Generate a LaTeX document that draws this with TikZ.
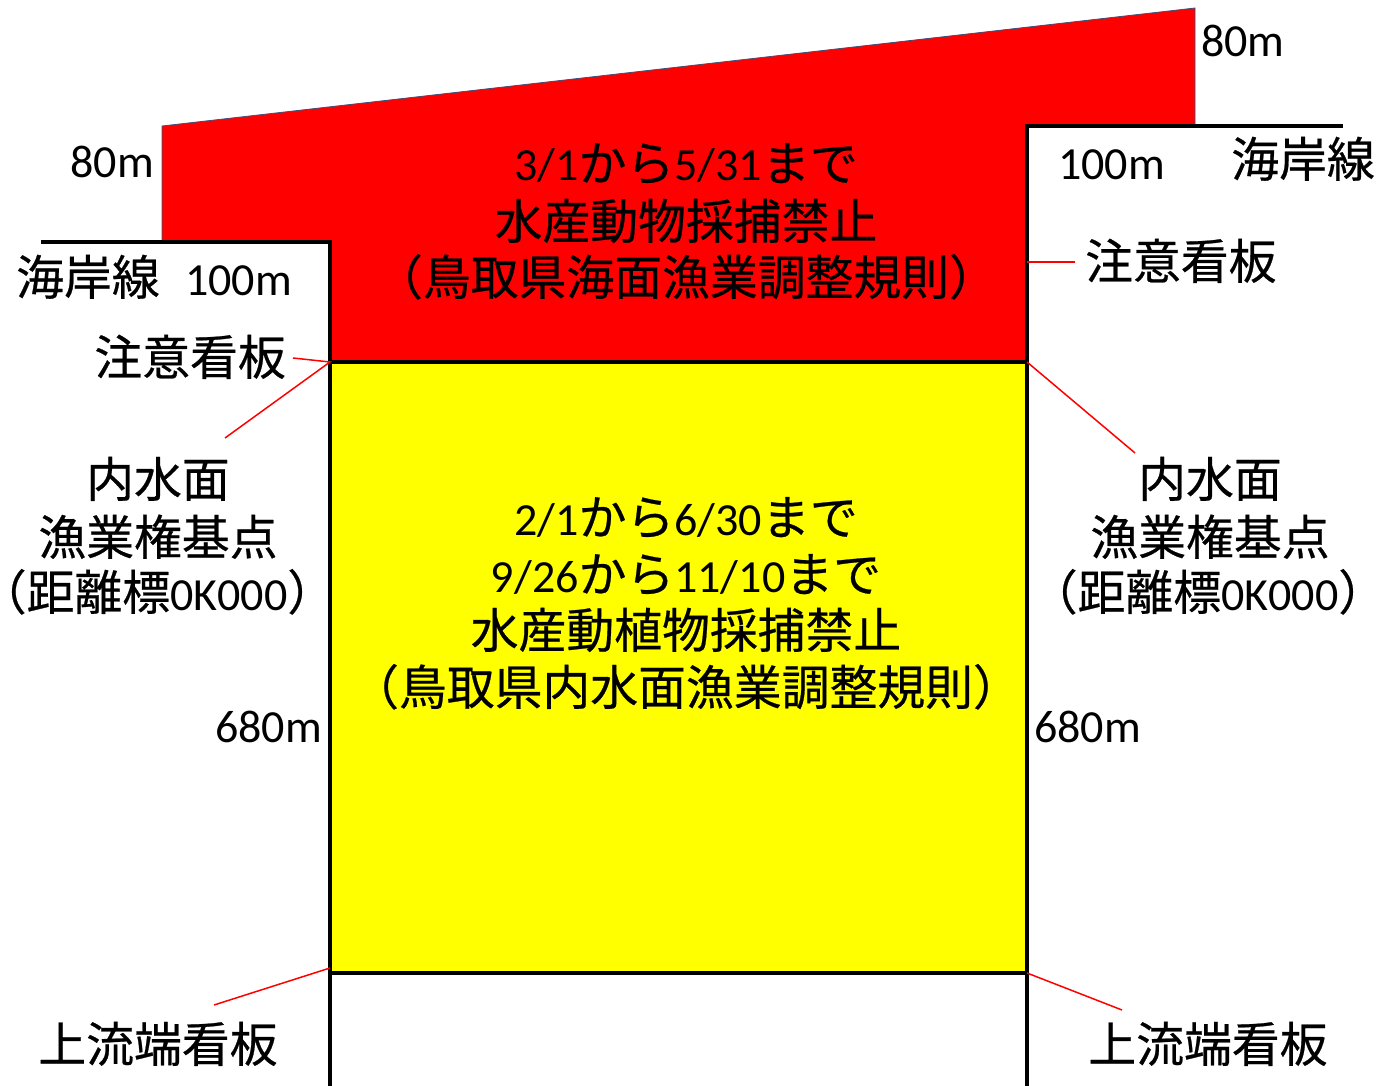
\documentclass[tikz,border=0pt]{standalone}
\usepackage{fontspec}
\setmainfont{Carlito}
\newfontfamily\jpfont[Scale=1.04, FakeBold=0.5]{Noto Sans CJK JP}
\definecolor{slateedge}{RGB}{60,80,120}
\definecolor{zonered}{RGB}{255,0,0}
\definecolor{zoneyel}{RGB}{255,255,0}
\definecolor{leadred}{RGB}{255,0,0}
\newcommand\lp{\makebox[0.55em][r]{\jpfont （}}
\newcommand\rp{\makebox[0.55em][l]{\jpfont ）}}
\begin{document}
\begin{tikzpicture}[x=1pt,y=-1pt,
  lbl/.style={inner sep=0pt, font=\fontsize{46}{56}\selectfont, text=black},
  edge/.style={line width=4pt, black, line cap=rect},
  leader/.style={leadred, line width=1.5pt}]
\useasboundingbox (0,0) rectangle (1385,1086);
\fill[white] (0,0) rectangle (1385,1086);
% corners
\coordinate (tlL) at (162,126);
\coordinate (trR) at (1195,8);
\coordinate (ylT) at (330,362);
\coordinate (yrT) at (1027,362);
\coordinate (ylB) at (330,973);
\coordinate (yrB) at (1027,973);
% red zone
\filldraw[fill=zonered, draw=slateedge, line width=0.8pt]
  (162,242) -- (tlL) -- (trR) -- (1195,126) -- (1027,126) -- (yrT) -- (ylT) -- (330,242) -- cycle;
% yellow zone
\fill[zoneyel] (ylT) rectangle (yrB);
% black outlines
\draw[edge] (43,242) -- (330,242) -- (330,1090);
\draw[edge] (1341,126) -- (1027,126) -- (1027,1090);
\draw[edge] (ylT) -- (yrT);
\draw[edge] (ylB) -- (yrB);
% red zone text
\node[lbl, anchor=base] (r1) at (686,181) {3/1{\jpfont から}5/31{\jpfont まで}};
\node[lbl, anchor=base] (r2) at (686,239) {\jpfont 水産動物採捕禁止};
\node[lbl, anchor=base] (r3) at (686,295) {\lp{\jpfont 鳥取県海面漁業調整規則}\rp};
% yellow zone text
\node[lbl, anchor=base] (y1) at (686,535) {2/1{\jpfont から}6/30{\jpfont まで}};
\node[lbl, anchor=base] (y2) at (686,592) {9/26{\jpfont から}11/10{\jpfont まで}};
\node[lbl, anchor=base] (y3) at (686,648) {\jpfont 水産動植物採捕禁止};
\node[lbl, anchor=base] (y4) at (686,705) {\lp{\jpfont 鳥取県内水面漁業調整規則}\rp};
% left labels
\node[lbl, anchor=base east] (l80) at (154,178) {80m};
\node[lbl, anchor=base west] (lcoast) at (16,295) {\jpfont 海岸線};
\node[lbl, anchor=base east] (l100) at (292,295) {100m};
\node[lbl, anchor=base east] (lsign) at (286,375) {\jpfont 注意看板};
\node[lbl, anchor=base] (lin1) at (158,497) {\jpfont 内水面};
\node[lbl, anchor=base] (lin2) at (158,555) {\jpfont 漁業権基点};
\node[lbl, anchor=base] (lin3) at (157,610) {\lp{\jpfont 距離標}0K000\rp};
\node[lbl, anchor=base east] (l680) at (322,742) {680m};
\node[lbl, anchor=base] (lup) at (158,1062) {\jpfont 上流端看板};
% right labels
\node[lbl, anchor=base west] (r80) at (1201,57) {80m};
\node[lbl, anchor=base west] (r100) at (1058,180) {100m};
\node[lbl, anchor=base east] (rcoast) at (1375,177) {\jpfont 海岸線};
\node[lbl, anchor=base west] (rsign) at (1085,279) {\jpfont 注意看板};
\node[lbl, anchor=base] (rin1) at (1210,497) {\jpfont 内水面};
\node[lbl, anchor=base] (rin2) at (1210,555) {\jpfont 漁業権基点};
\node[lbl, anchor=base] (rin3) at (1208,610) {\lp{\jpfont 距離標}0K000\rp};
\node[lbl, anchor=base west] (r680) at (1034,742) {680m};
\node[lbl, anchor=base] (rup) at (1208,1062) {\jpfont 上流端看板};
% leader lines
\coordinate (lsignEnd) at (293,358);
\coordinate (linEnd) at (225,438);
\coordinate (rsignA) at (1027,262);
\coordinate (rsignEnd) at (1075,262);
\coordinate (rinEnd) at (1135,453);
\coordinate (lupA) at (330,968);
\coordinate (lupEnd) at (214,1005);
\coordinate (rupEnd) at (1122,1010);
\draw[leader] (lsignEnd) -- (ylT) -- (linEnd);
\draw[leader] (rsignA) -- (rsignEnd);
\draw[leader] (yrT) -- (rinEnd);
\draw[leader] (lupA) -- (lupEnd);
\draw[leader] (yrB) -- (rupEnd);
\end{tikzpicture}
\end{document}
